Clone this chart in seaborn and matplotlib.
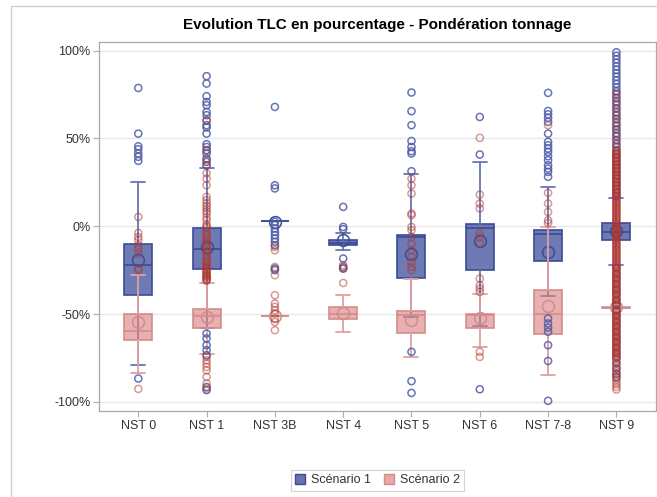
import matplotlib
matplotlib.use("Agg")
import matplotlib.pyplot as plt
import seaborn as sns
import pandas as pd
from matplotlib.patches import Patch
from matplotlib.lines import Line2D
from matplotlib.ticker import FuncFormatter

categories = ["NST 0", "NST 1", "NST 3B", "NST 4", "NST 5", "NST 6", "NST 7-8", "NST 9"]
scenarios = ["Scénario 1", "Scénario 2"]

# Scenario 1 box statistics (percent)
s1_q1 = [-39.3, -24.1, 2.8, -10.8, -29.2, -25.0, -19.9, -7.6]
s1_med = [-21.8, -12.7, 2.8, -9.3, -6.1, -1.0, -4.2, -3.2]
s1_q3 = [-10.4, -0.9, 2.8, -8.0, -5.1, 1.1, -2.3, 1.9]
s1_lo = [-79.1, -58.2, 2.8, -13.7, -51.6, -56.7, -39.8, -22.2]
s1_hi = [25.4, 33.2, 2.8, -3.8, 29.6, 36.6, 22.4, 15.8]
s1_mean = [-19.4, -11.8, 2.5, -8.0, -15.9, -8.5, -14.6, -3.0]

# Scenario 2 box statistics (percent)
s2_q1 = [-64.9, -58.2, -51.0, -53.1, -60.7, -57.7, -61.5, -46.5]
s2_med = [-59.8, -51.2, -51.0, -49.7, -50.7, -50.7, -49.7, -46.5]
s2_q3 = [-49.7, -47.4, -51.0, -45.9, -48.2, -50.1, -36.4, -46.0]
s2_lo = [-83.8, -72.5, -51.0, -60.5, -74.7, -68.7, -84.8, -46.8]
s2_hi = [-27.9, -32.3, -51.0, -38.9, -29.8, -38.7, -0.4, -45.8]
s2_mean = [-54.6, -51.6, -51.0, -49.3, -53.5, -52.5, -45.4, -46.0]

# Outliers, scenario 1
s1_out = {
    "NST 0": [78.7, 52.7, 45.5, 43.8, 41.4, 39.5, 37.2, -86.7],
    "NST 1": [85.4, 81.2, 74.0, 70.7, 68.9, 65.0, 63.2, 60.3, 57.5, 56.2, 52.7, 46.7,
              45.1, 43.3, 41.4, 38.5, 36.6, 34.7, -61.1, -63.9, -67.7, -70.6, -73.4,
              -91.5, -93.3],
    "NST 3B": [67.9, 23.3, 21.5, 2.5, 0.6, -1.3, -3.2, -5.1, -7.0, -8.9, -10.8, -24.1, -25.0],
    "NST 4": [11.0, -0.4, -1.7, -18.4, -23.2, -24.1],
    "NST 5": [76.1, 65.5, 57.5, 48.5, 45.1, 42.7, 41.4, 31.3, -71.5, -88.2, -94.9],
    "NST 6": [62.2, 40.8, -92.8],
    "NST 7-8": [75.9, 65.6, 63.7, 61.7, 59.4, 52.7, 48.0, 46.1, 44.2, 42.3, 39.8, 37.6,
                34.7, 32.8, 30.9, 28.1, -52.5, -55.4, -57.7, -60.1, -67.7, -76.7, -99.4],
    "NST 9": [99, 97, 95, 93, 91, 89, 87, 85, 83, 81, 79, 77, 75, 73, 71, 69, 67, 65,
              63, 61, 59, 57, 55, 53, 51, 49, 47, 45, 43, 41, 39, 37, 35, 33, 31, 29,
              27, 25, 23, 21, 19, 17, -24, -27, -30, -33, -36, -39, -42, -45, -48,
              -51, -54, -57, -60, -63, -66, -69, -72, -75, -78, -81, -84, -86],
}

# Outliers, scenario 2
s2_out = {
    "NST 0": [5.3, -3.8, -6.1, -8.0, -10.8, -13.1, -15.6, -24.1, -25.0, -92.6],
    "NST 1": [60.0, 43.0, 37.6, 34.7, 30.2, 27.1, 23.3, 16.7, 14.8, 13.0, 11.5, 10.1,
              8.5, 7.2, 5.0, 3.4, 1.0, 0.0, -1.0, -3.0, -4.7, -5.8, -7.3, -8.5, -9.7,
              -11.0, -12.0, -14.3, -15.5, -17.1, -18.5, -19.9, -20.5, -21.5, -22.8,
              -23.5, -24.0, -25.0, -25.5, -26.2, -26.8, -27.9, -28.0, -28.5, -29.0,
              -29.9, -30.3, -30.8, -31.0, -74.4, -76.3, -78.1, -80.1, -82.0, -85.8,
              -89.5, -92.4],
    "NST 3B": [-11.8, -13.7, -23.2, -27.9, -39.3, -44.0, -45.9, -47.8, -49.7, -52.5,
               -54.5, -59.2],
    "NST 4": [-22.2, -24.1, -32.3],
    "NST 5": [27.1, 23.3, 18.6, 7.2, 6.3, -0.4, -2.3, -6.1, -9.9, -13.7, -17.5, -20.3,
              -23.2, -25.0],
    "NST 6": [50.3, 18.0, 12.9, 10.1, -4.2, -6.1, -9.9, -29.8, -33.6, -35.5, -37.4,
              -71.5, -74.4],
    "NST 7-8": [57.5, 19.0, 12.9, 8.1, 3.4, 1.9],
    "NST 9": [76, 73, 70, 67, 64, 61, 58, 55, 52, 49, 46, 43.5, 42, 40.5, 39, 37.5, 36,
              34.5, 33, 31.5, 30, 28.5, 27, 25.5, 24, 22.5, 21, 19.5, 18, 16.5, 15,
              13.5, 12, 10.5, 9, 7.5, 6, 4.5, 3, 1.5, 0, -1.5, -3, -4.5, -6, -7.5, -9,
              -10.5, -12, -13.5, -15, -16.5, -18, -19.5, -21, -22.5, -24, -25.5, -27,
              -28.5, -30, -31.5, -33, -34.5, -36, -37.5, -39, -40.5, -42, -43.5, -45,
              -48, -49.5, -51, -52.5, -54, -55.5, -57, -58.5, -60, -61.5, -63, -64.5,
              -66, -67.5, -69, -70.5, -72, -73.5, -75, -76.5, -78, -79.5, -81, -82.5,
              -84, -85.5, -87, -88.5, -90, -91.5, -93,
              42.8, 41.2, 39.8, 38.2, 36.8, 35.2, 33.8, 32.2, 30.8, 29.2, 27.8, 26.2,
              24.8, 23.2, 21.8, 20.2, 18.8, 17.2, 15.8, 14.2, 12.8, 11.2, 9.8, 8.2,
              6.8, 5.2, 3.8, 2.2, 0.8, -0.8, -2.2, -3.8, -5.2, -6.8, -8.2, -9.8,
              -11.2, -12.8, -14.2, -15.8, -17.2, -18.8, -20.2, -21.8, -23.2, -24.8,
              -26.2, -27.8, -29.2, -30.8, -32.2, -33.8, -35.2, -36.8, -38.2, -39.8,
              -41.2, -42.8, -44.2, -47.2, -48.8, -50.2, -51.8, -53.2, -54.8, -56.2,
              -57.8, -59.2, -60.8, -62.2, -63.8, -65.2, -66.8, -68.2, -69.8, -71.2,
              -72.8, -74.2],
}

yticks = [-100, -50, 0, 50, 100]

# ---------------------------------------------------------------- style
sns.set_theme(style="white")
plt.rcParams["font.family"] = ["Liberation Sans", "DejaVu Sans"]

BLUE_FILL = (0.40, 0.45, 0.69, 0.95)
BLUE_EDGE = "#3c4b96"
BLUE_LINE = "#6675b6"
RED_FILL = (0.86, 0.50, 0.50, 0.62)
RED_EDGE = "#d38c8c"
RED_LINE = "#e0a0a0"

fig = plt.figure(figsize=(6.57, 4.97), dpi=100)
ax = fig.add_axes([0.1507, 0.1737, 0.8478, 0.7423])

positions = list(range(len(categories)))


def make_stats(q1, med, q3, lo, hi, mean):
    return [dict(q1=a, med=b, q3=c, whislo=d, whishi=e, mean=f, fliers=[])
            for a, b, c, d, e, f in zip(q1, med, q3, lo, hi, mean)]


def draw(stats, fill, edge, line, z):
    ax.bxp(stats, positions=positions, widths=0.41, patch_artist=True,
           showmeans=True, showfliers=False,
           boxprops=dict(facecolor=fill, edgecolor=edge, linewidth=1.2),
           medianprops=dict(color=edge, linewidth=1.2),
           whiskerprops=dict(color=line, linewidth=1.3),
           capprops=dict(color=line, linewidth=1.3),
           meanprops=dict(marker="o", markerfacecolor="none", markeredgecolor=edge,
                          markersize=8.5, markeredgewidth=1.1),
           zorder=z)


draw(make_stats(s1_q1, s1_med, s1_q3, s1_lo, s1_hi, s1_mean), BLUE_FILL, BLUE_EDGE, BLUE_LINE, 2)
draw(make_stats(s2_q1, s2_med, s2_q3, s2_lo, s2_hi, s2_mean), RED_FILL, RED_EDGE, RED_LINE, 3)

rows = []
for scen, out in zip(scenarios, [s1_out, s2_out]):
    for ci, cat in enumerate(categories):
        for v in out[cat]:
            rows.append(dict(pos=ci, value=v, scenario=scen))
df = pd.DataFrame(rows)

sns.scatterplot(data=df[df.scenario == scenarios[0]], x="pos", y="value", ax=ax,
                marker="o", s=26, facecolors="none", edgecolor="#4d5ca6",
                linewidth=1.1, alpha=0.85, zorder=4, legend=False)
sns.scatterplot(data=df[df.scenario == scenarios[1]], x="pos", y="value", ax=ax,
                marker="o", s=26, facecolors="none", edgecolor="#b0362c",
                linewidth=1.1, alpha=0.5, zorder=5, legend=False)

ax.set_xlim(-0.575, 7.58)
ax.set_ylim(-105, 105)
ax.set_xticks(positions)
ax.set_xticklabels(categories, fontsize=9, color="#333333")
ax.set_yticks(yticks)
ax.yaxis.set_major_formatter(FuncFormatter(lambda v, p: f"{int(v)}%"))
ax.tick_params(axis="y", labelsize=9, colors="#333333", length=4, width=0.8,
               color="#b0b0b0", left=True, pad=2)
ax.tick_params(axis="x", length=4, width=0.8, color="#b0b0b0", bottom=True, pad=3)
ax.set_xlabel("")
ax.set_ylabel("")
ax.grid(axis="y", color="#e8e8e8", linewidth=1.0, zorder=0)
ax.set_axisbelow(True)
for sp in ax.spines.values():
    sp.set_color("#a8a8a8")
    sp.set_linewidth(0.9)

fig.text(0.5745, 0.949, "Evolution TLC en pourcentage - Pondération tonnage",
         ha="center", va="center", fontsize=11, fontweight="bold", color="black")

handles = [Patch(facecolor="#6673b0", edgecolor=BLUE_EDGE, label=scenarios[0]),
           Patch(facecolor="#e8a8a8", edgecolor=RED_EDGE, label=scenarios[1])]
leg = fig.legend(handles=handles, loc="center", bbox_to_anchor=(0.5745, 0.034),
                 ncol=2, fontsize=9, frameon=True, fancybox=False,
                 handlelength=0.8, handleheight=0.8, handletextpad=0.5,
                 columnspacing=1.0, borderpad=0.35)
leg.get_frame().set_edgecolor("#c8c8c8")
leg.get_frame().set_linewidth(0.8)
for t in leg.get_texts():
    t.set_color("#333333")

fig.add_artist(Line2D([0.016, 0.016], [0.0, 0.988], transform=fig.transFigure,
                      color="#cccccc", linewidth=0.9))
fig.add_artist(Line2D([0.016, 1.0], [0.988, 0.988], transform=fig.transFigure,
                      color="#cccccc", linewidth=0.9))

fig.savefig("out.png", dpi=100)
